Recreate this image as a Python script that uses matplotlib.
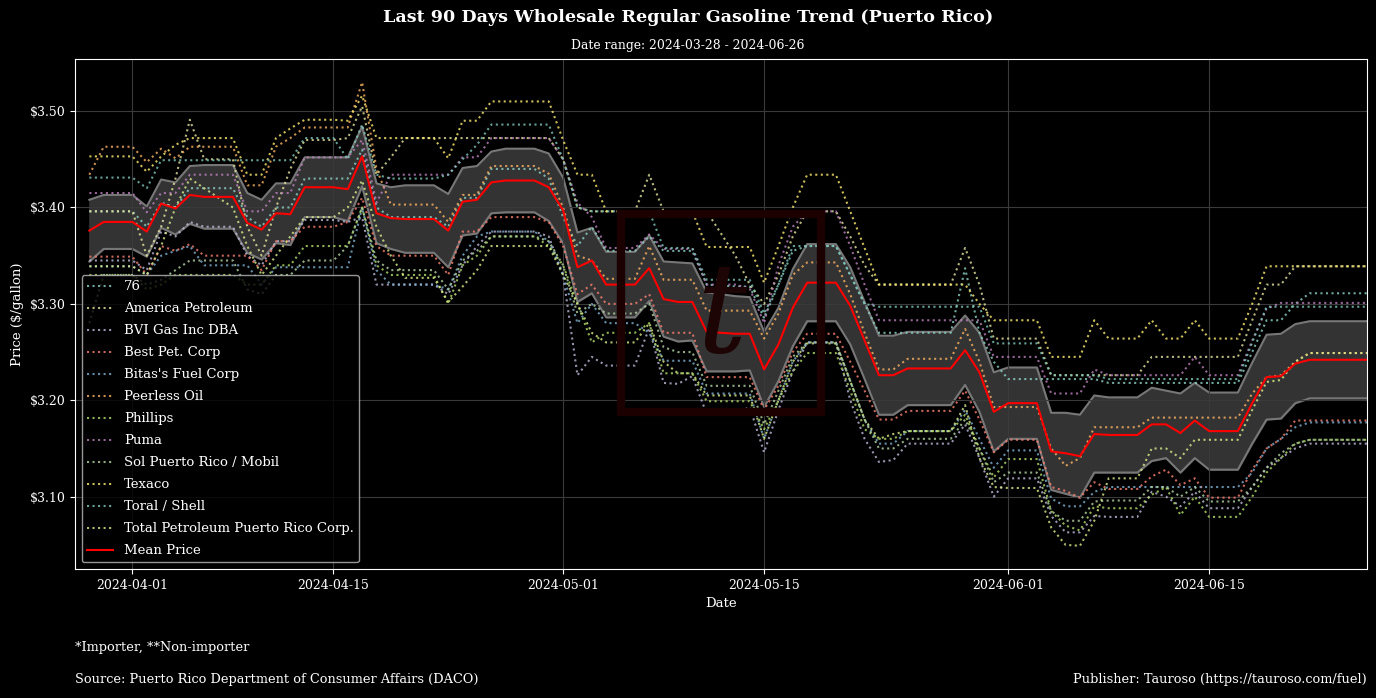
import pandas as pd
import matplotlib
matplotlib.use("Agg")
import matplotlib.pyplot as plt
import matplotlib.dates as mdates
from matplotlib.ticker import FuncFormatter
from matplotlib.patches import Rectangle

plt.rcParams['font.family'] = ['DejaVu Serif']

# daily postings, no Sundays
dates = pd.date_range("2024-03-29", "2024-06-26", freq="D")
dates = dates[dates.dayofweek != 6]

companies = ["76", "America Petroleum", "BVI Gas Inc DBA", "Best Pet. Corp",
             "Bitas's Fuel Corp", "Peerless Oil", "Phillips", "Puma",
             "Sol Puerto Rico / Mobil", "Texaco", "Toral / Shell",
             "Total Petroleum Puerto Rico Corp."]
colors = ["#8dd3c7", "#e6e6a0", "#bebada", "#fb8072", "#80b1d3", "#fdb462",
          "#b3de69", "#bc80bd", "#b5d6a5", "#ffed6f", "#7fc8bc", "#d9ef8b"]

p_76 = [3.396, 3.396, 3.396, 3.380, 3.405, 3.400, 3.420, 3.420, 3.420, 3.390, 3.380, 3.400, 3.400, 3.430, 3.430,
        3.430, 3.460, 3.400, 3.390, 3.390, 3.390, 3.380, 3.410, 3.410, 3.440, 3.440, 3.440, 3.430, 3.390, 3.360,
        3.380, 3.355, 3.355, 3.370, 3.355, 3.355, 3.355, 3.320, 3.318, 3.318, 3.285, 3.320, 3.355, 3.360, 3.360,
        3.330, 3.300, 3.270, 3.270, 3.270, 3.270, 3.270, 3.337, 3.270, 3.240, 3.222, 3.222, 3.222, 3.222, 3.222, 3.222,
        3.218, 3.218, 3.218, 3.218, 3.218, 3.218, 3.218, 3.218, 3.250, 3.283, 3.283, 3.300, 3.311, 3.311, 3.311, 3.311]
p_america = [3.396, 3.396, 3.396, 3.350, 3.380, 3.430, 3.491, 3.450, 3.450, 3.380, 3.350, 3.400, 3.440, 3.470, 3.470,
             3.472, 3.505, 3.434, 3.452, 3.472, 3.472, 3.472, 3.472, 3.472, 3.472, 3.472, 3.472, 3.472, 3.450, 3.400,
             3.396, 3.396, 3.396, 3.434, 3.396, 3.396, 3.396, 3.396, 3.350, 3.320, 3.300, 3.330, 3.370, 3.396, 3.396,
             3.370, 3.340, 3.320, 3.320, 3.320, 3.320, 3.320, 3.358, 3.320, 3.264, 3.264, 3.264, 3.226, 3.226, 3.226, 3.226,
             3.226, 3.226, 3.245, 3.245, 3.245, 3.245, 3.245, 3.245, 3.283, 3.320, 3.320, 3.339, 3.339, 3.339, 3.339, 3.339]
p_bvi = [3.345, 3.345, 3.345, 3.335, 3.375, 3.370, 3.385, 3.380, 3.380, 3.350, 3.340, 3.365, 3.365, 3.387, 3.387,
         3.385, 3.390, 3.320, 3.320, 3.320, 3.320, 3.310, 3.340, 3.360, 3.375, 3.375, 3.375, 3.370, 3.330, 3.226,
         3.245, 3.236, 3.236, 3.275, 3.218, 3.217, 3.225, 3.186, 3.186, 3.193, 3.146, 3.190, 3.230, 3.260, 3.260,
         3.200, 3.160, 3.136, 3.138, 3.155, 3.155, 3.155, 3.175, 3.140, 3.100, 3.119, 3.119, 3.080, 3.063, 3.063, 3.080,
         3.079, 3.079, 3.105, 3.100, 3.090, 3.105, 3.088, 3.088, 3.110, 3.130, 3.140, 3.150, 3.155, 3.155, 3.155, 3.155]
p_best = [3.349, 3.349, 3.349, 3.330, 3.360, 3.355, 3.362, 3.350, 3.350, 3.350, 3.335, 3.365, 3.365, 3.380, 3.380,
          3.385, 3.410, 3.360, 3.350, 3.350, 3.350, 3.330, 3.375, 3.375, 3.390, 3.390, 3.390, 3.385, 3.360, 3.310,
          3.320, 3.300, 3.300, 3.310, 3.270, 3.270, 3.270, 3.224, 3.224, 3.224, 3.190, 3.215, 3.250, 3.269, 3.269,
          3.240, 3.210, 3.180, 3.180, 3.189, 3.189, 3.189, 3.210, 3.180, 3.146, 3.159, 3.159, 3.110, 3.106, 3.099, 3.115,
          3.108, 3.108, 3.121, 3.128, 3.112, 3.119, 3.099, 3.099, 3.128, 3.150, 3.160, 3.179, 3.179, 3.179, 3.179, 3.179]
p_bitas = [3.339, 3.339, 3.339, 3.330, 3.350, 3.355, 3.360, 3.340, 3.340, 3.340, 3.320, 3.338, 3.338, 3.338, 3.338,
           3.338, 3.400, 3.335, 3.320, 3.320, 3.320, 3.315, 3.350, 3.370, 3.375, 3.375, 3.375, 3.365, 3.330, 3.280,
           3.300, 3.280, 3.280, 3.270, 3.241, 3.241, 3.241, 3.207, 3.207, 3.207, 3.160, 3.200, 3.240, 3.260, 3.260,
           3.220, 3.180, 3.155, 3.155, 3.168, 3.168, 3.168, 3.190, 3.160, 3.130, 3.148, 3.148, 3.098, 3.090, 3.090, 3.105,
           3.110, 3.110, 3.110, 3.110, 3.110, 3.110, 3.110, 3.110, 3.125, 3.150, 3.160, 3.172, 3.177, 3.177, 3.177, 3.177]
p_peerless = [3.434, 3.463, 3.463, 3.447, 3.461, 3.451, 3.463, 3.463, 3.463, 3.423, 3.423, 3.463, 3.472, 3.483, 3.483,
              3.483, 3.530, 3.440, 3.403, 3.403, 3.403, 3.385, 3.413, 3.413, 3.443, 3.443, 3.443, 3.435, 3.400, 3.350,
              3.345, 3.326, 3.326, 3.360, 3.325, 3.325, 3.325, 3.293, 3.293, 3.293, 3.264, 3.290, 3.330, 3.343, 3.343,
              3.310, 3.270, 3.232, 3.232, 3.243, 3.243, 3.243, 3.274, 3.240, 3.193, 3.193, 3.193, 3.150, 3.132, 3.140, 3.172,
              3.172, 3.172, 3.182, 3.182, 3.182, 3.182, 3.182, 3.182, 3.207, 3.224, 3.226, 3.240, 3.249, 3.249, 3.249, 3.249]
p_phillips = [3.330, 3.330, 3.330, 3.315, 3.320, 3.330, 3.330, 3.330, 3.330, 3.320, 3.320, 3.340, 3.340, 3.360, 3.360,
              3.360, 3.400, 3.340, 3.330, 3.330, 3.330, 3.300, 3.340, 3.350, 3.370, 3.370, 3.370, 3.360, 3.340, 3.300,
              3.260, 3.270, 3.270, 3.280, 3.228, 3.228, 3.228, 3.199, 3.199, 3.199, 3.170, 3.200, 3.230, 3.249, 3.249,
              3.210, 3.170, 3.160, 3.160, 3.168, 3.168, 3.168, 3.185, 3.150, 3.120, 3.139, 3.139, 3.085, 3.070, 3.065, 3.090,
              3.088, 3.088, 3.102, 3.110, 3.081, 3.100, 3.079, 3.079, 3.100, 3.125, 3.140, 3.155, 3.159, 3.159, 3.159, 3.159]
p_puma = [3.415, 3.415, 3.415, 3.395, 3.415, 3.415, 3.434, 3.434, 3.434, 3.396, 3.396, 3.415, 3.415, 3.452, 3.452,
          3.452, 3.470, 3.405, 3.434, 3.434, 3.434, 3.434, 3.452, 3.452, 3.472, 3.472, 3.472, 3.472, 3.450, 3.405,
          3.390, 3.358, 3.358, 3.372, 3.357, 3.357, 3.357, 3.320, 3.320, 3.316, 3.280, 3.340, 3.380, 3.396, 3.396,
          3.360, 3.320, 3.283, 3.283, 3.283, 3.283, 3.283, 3.283, 3.283, 3.245, 3.245, 3.245, 3.207, 3.207, 3.207, 3.232,
          3.226, 3.226, 3.226, 3.226, 3.226, 3.245, 3.226, 3.226, 3.262, 3.295, 3.301, 3.301, 3.301, 3.301, 3.301, 3.301]
p_sol = [3.280, 3.330, 3.330, 3.320, 3.325, 3.335, 3.345, 3.345, 3.345, 3.315, 3.310, 3.330, 3.330, 3.345, 3.345,
         3.360, 3.400, 3.345, 3.335, 3.335, 3.335, 3.315, 3.345, 3.355, 3.370, 3.370, 3.370, 3.365, 3.340, 3.290,
         3.300, 3.290, 3.290, 3.300, 3.255, 3.250, 3.250, 3.215, 3.215, 3.215, 3.175, 3.210, 3.245, 3.260, 3.260,
         3.220, 3.180, 3.150, 3.150, 3.160, 3.160, 3.160, 3.180, 3.150, 3.115, 3.125, 3.125, 3.085, 3.075, 3.075, 3.095,
         3.096, 3.096, 3.110, 3.110, 3.100, 3.110, 3.095, 3.095, 3.110, 3.130, 3.145, 3.155, 3.159, 3.159, 3.159, 3.159]
p_texaco = [3.453, 3.453, 3.453, 3.437, 3.453, 3.465, 3.472, 3.472, 3.472, 3.434, 3.434, 3.472, 3.482, 3.491, 3.491,
            3.490, 3.516, 3.472, 3.472, 3.472, 3.472, 3.451, 3.490, 3.490, 3.510, 3.510, 3.510, 3.510, 3.470, 3.434,
            3.434, 3.396, 3.396, 3.396, 3.396, 3.396, 3.396, 3.359, 3.359, 3.359, 3.322, 3.360, 3.400, 3.434, 3.434,
            3.396, 3.358, 3.320, 3.320, 3.320, 3.320, 3.320, 3.320, 3.300, 3.283, 3.283, 3.283, 3.245, 3.245, 3.245, 3.283,
            3.264, 3.264, 3.283, 3.264, 3.264, 3.283, 3.264, 3.264, 3.300, 3.339, 3.339, 3.339, 3.339, 3.339, 3.339, 3.339]
p_toral = [3.431, 3.431, 3.431, 3.420, 3.449, 3.449, 3.449, 3.449, 3.449, 3.449, 3.449, 3.449, 3.449, 3.472, 3.472,
           3.450, 3.486, 3.434, 3.430, 3.430, 3.430, 3.434, 3.450, 3.465, 3.486, 3.486, 3.486, 3.486, 3.450, 3.400,
           3.396, 3.396, 3.396, 3.396, 3.358, 3.358, 3.358, 3.325, 3.325, 3.325, 3.290, 3.320, 3.360, 3.360, 3.360,
           3.330, 3.300, 3.297, 3.297, 3.297, 3.297, 3.297, 3.297, 3.297, 3.259, 3.259, 3.259, 3.226, 3.226, 3.226, 3.226,
           3.222, 3.222, 3.222, 3.222, 3.222, 3.222, 3.222, 3.222, 3.260, 3.297, 3.297, 3.297, 3.297, 3.297, 3.297, 3.297]
p_total = [3.339, 3.339, 3.339, 3.330, 3.360, 3.400, 3.430, 3.420, 3.400, 3.360, 3.330, 3.350, 3.370, 3.390, 3.390,
           3.400, 3.428, 3.380, 3.350, 3.327, 3.327, 3.302, 3.318, 3.335, 3.360, 3.360, 3.360, 3.360, 3.330, 3.300,
           3.270, 3.260, 3.260, 3.280, 3.240, 3.228, 3.228, 3.205, 3.205, 3.205, 3.160, 3.200, 3.240, 3.259, 3.259,
           3.220, 3.180, 3.160, 3.165, 3.168, 3.168, 3.168, 3.195, 3.140, 3.110, 3.109, 3.109, 3.068, 3.050, 3.049, 3.075,
           3.119, 3.119, 3.150, 3.150, 3.140, 3.159, 3.159, 3.159, 3.190, 3.219, 3.221, 3.240, 3.249, 3.249, 3.249, 3.249]

series = [p_76, p_america, p_bvi, p_best, p_bitas, p_peerless, p_phillips,
          p_puma, p_sol, p_texaco, p_toral, p_total]

mean_price = [3.376, 3.385, 3.385, 3.375, 3.404, 3.399, 3.413, 3.411, 3.411, 3.384, 3.377, 3.394, 3.393, 3.421, 3.421,
              3.419, 3.453, 3.394, 3.389, 3.388, 3.388, 3.376, 3.406, 3.408, 3.426, 3.428, 3.428, 3.421, 3.397, 3.338,
              3.345, 3.320, 3.320, 3.337, 3.305, 3.302, 3.302, 3.271, 3.269, 3.269, 3.232, 3.258, 3.296, 3.322, 3.322,
              3.298, 3.262, 3.226, 3.226, 3.233, 3.233, 3.233, 3.252, 3.229, 3.188, 3.197, 3.197, 3.147, 3.145, 3.142, 3.165,
              3.164, 3.164, 3.175, 3.175, 3.166, 3.179, 3.168, 3.168, 3.197, 3.224, 3.225, 3.238, 3.242, 3.242, 3.242, 3.242]
spread = [0.032, 0.028, 0.028, 0.026, 0.025, 0.027, 0.030, 0.033, 0.033, 0.031, 0.031, 0.031, 0.032, 0.031, 0.031,
          0.033, 0.031, 0.031, 0.032, 0.035, 0.035, 0.038, 0.035, 0.035, 0.032, 0.033, 0.033, 0.035, 0.034, 0.036,
          0.034, 0.034, 0.034, 0.034, 0.039, 0.041, 0.040, 0.041, 0.039, 0.038, 0.039, 0.038, 0.040, 0.040, 0.040,
          0.040, 0.040, 0.041, 0.041, 0.038, 0.038, 0.038, 0.036, 0.041, 0.041, 0.037, 0.037, 0.040, 0.042, 0.043, 0.040,
          0.039, 0.039, 0.038, 0.035, 0.041, 0.039, 0.040, 0.040, 0.042, 0.044, 0.044, 0.041, 0.040, 0.040, 0.040, 0.040]

for s in series + [mean_price, spread]:
    assert len(s) == len(dates)

lower = [m - s for m, s in zip(mean_price, spread)]
upper = [m + s for m, s in zip(mean_price, spread)]

fig = plt.figure(figsize=(13.76, 6.98), dpi=100, facecolor="black")
ax = fig.add_axes([0.0545, 0.1848, 0.9390, 0.7307])
ax.set_facecolor("black")

# faint logo watermark
fig.patches.append(Rectangle((0.451, 0.410), 0.146, 0.283, transform=fig.transFigure,
                             fill=False, edgecolor="#1c0000", lw=6, zorder=0.5))
fig.text(0.524, 0.545, "t", fontsize=90, color="#1e0505", ha="center", va="center",
         fontstyle="italic", zorder=0.6)

ax.fill_between(dates, lower, upper, color="#333333", zorder=1)
ax.plot(dates, upper, color="#777777", lw=1.5, zorder=1.5)
ax.plot(dates, lower, color="#777777", lw=1.5, zorder=1.5)

for name, vals, c in zip(companies, series, colors):
    ax.plot(dates, vals, linestyle=":", lw=1.5, color=c, alpha=0.8, label=name, zorder=2)

ax.plot(dates, mean_price, color="red", lw=1.5, label="Mean Price", zorder=3)

ax.set_xlim(pd.Timestamp("2024-03-28"), pd.Timestamp("2024-06-26"))
ax.xaxis.set_major_locator(mdates.DayLocator(bymonthday=[1, 15]))
ax.xaxis.set_major_formatter(mdates.DateFormatter("%Y-%m-%d"))
ax.yaxis.set_major_formatter(FuncFormatter(lambda v, _: f"${v:.2f}"))

ax.grid(True, color="#3a3a3a", lw=0.8)
ax.tick_params(colors="white", labelsize=9)
for sp in ax.spines.values():
    sp.set_color("white")

ax.set_xlabel("Date", color="white", fontsize=9.5)
ax.set_ylabel("Price ($/gallon)", color="white", fontsize=9.5)

leg = ax.legend(loc="lower left", fontsize=9.5, facecolor="black", edgecolor="#bbbbbb",
                framealpha=0.8, labelcolor="white", labelspacing=0.68)

fig.text(0.5, 1 - 18 / 698, "Last 90 Days Wholesale Regular Gasoline Trend (Puerto Rico)",
         ha="center", va="center", color="white", fontsize=12.6, fontweight="bold")
fig.text(0.5, 1 - 45 / 698, "Date range: 2024-03-28 - 2024-06-26",
         ha="center", va="center", color="white", fontsize=8.9)
fig.text(75 / 1376, 1 - 648 / 698, "*Importer, **Non-importer",
         ha="left", va="center", color="white", fontsize=9.3)
fig.text(75 / 1376, 1 - 679 / 698, "Source: Puerto Rico Department of Consumer Affairs (DACO)",
         ha="left", va="center", color="white", fontsize=9.3)
fig.text(1367 / 1376, 1 - 679 / 698, "Publisher: Tauroso (https://tauroso.com/fuel)",
         ha="right", va="center", color="white", fontsize=9.3)

fig.savefig("out.png", dpi=100, facecolor="black")
